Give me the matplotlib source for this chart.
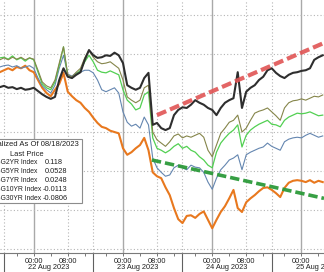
"""Normalized US Treasury yields (2Y/5Y/7Y/10Y/30Y), 22-25 Aug 2023, Bloomberg style."""
import matplotlib
matplotlib.use("Agg")
import matplotlib.pyplot as plt
import matplotlib.transforms as mtransforms
import numpy as np
from matplotlib.patches import Rectangle

W, H = 324, 272
AX_H = 253  # plot area height in pixels (top of picture down to the time axis)

# x = trading hours since the 22 Aug session opened (session = 17:00 -> 14:00)
HOURS = list(range(-1, 76))

G2YR = [0.069, 0.071, 0.068, 0.069, 0.066, 0.068, 0.065, 0.066, 0.068, 0.063,
        0.058, 0.054, 0.051, 0.054, 0.080, 0.098, 0.085, 0.083, 0.088, 0.092,
        0.111, 0.126, 0.118, 0.114, 0.115, 0.118, 0.117, 0.122, 0.118, 0.106,
        0.072, 0.068, 0.065, 0.068, 0.083, 0.091, 0.011, 0.014, 0.006, 0.003,
        0.006, 0.026, 0.034, 0.038, 0.037, 0.042, 0.049, 0.045, 0.042, 0.037,
        0.034, 0.026, 0.037, 0.045, 0.049, 0.052, 0.092, 0.037, 0.062, 0.068,
        0.072, 0.080, 0.085, 0.095, 0.098, 0.091, 0.086, 0.083, 0.088, 0.091,
        0.092, 0.094, 0.095, 0.098, 0.111, 0.115, 0.118]

G5YR = [0.111, 0.114, 0.111, 0.115, 0.112, 0.115, 0.111, 0.114, 0.112, 0.095,
        0.077, 0.071, 0.068, 0.080, 0.106, 0.131, 0.088, 0.085, 0.092, 0.098,
        0.114, 0.126, 0.115, 0.108, 0.105, 0.106, 0.108, 0.103, 0.098, 0.080,
        0.054, 0.049, 0.045, 0.049, 0.068, 0.072, 0.000, -0.012, -0.017, -0.022,
        -0.015, -0.006, -0.003, -0.009, -0.006, -0.008, -0.005, -0.002, -0.008, -0.028,
        -0.038, -0.020, -0.002, 0.006, 0.015, 0.018, 0.026, 0.000, 0.006, 0.018,
        0.029, 0.032, 0.034, 0.037, 0.031, 0.025, 0.018, 0.037, 0.045, 0.048,
        0.049, 0.051, 0.049, 0.052, 0.055, 0.054, 0.057]

G7YR = [0.114, 0.115, 0.112, 0.117, 0.111, 0.114, 0.109, 0.114, 0.111, 0.092,
        0.074, 0.068, 0.065, 0.077, 0.103, 0.131, 0.086, 0.083, 0.089, 0.095,
        0.108, 0.118, 0.108, 0.095, 0.092, 0.091, 0.094, 0.091, 0.088, 0.065,
        0.049, 0.043, 0.034, 0.037, 0.057, 0.062, -0.009, -0.025, -0.028, -0.032,
        -0.028, -0.022, -0.018, -0.025, -0.022, -0.028, -0.031, -0.038, -0.043, -0.051,
        -0.055, -0.031, -0.017, -0.009, -0.002, 0.003, 0.011, -0.023, -0.005, 0.003,
        0.008, 0.012, 0.015, 0.018, 0.012, 0.011, 0.008, 0.018, 0.023, 0.026,
        0.029, 0.028, 0.029, 0.031, 0.028, 0.025, 0.026]

G10YR = [0.100, 0.102, 0.103, 0.100, 0.102, 0.098, 0.100, 0.102, 0.098, 0.083,
         0.071, 0.065, 0.060, 0.072, 0.098, 0.118, 0.089, 0.086, 0.091, 0.092,
         0.095, 0.095, 0.091, 0.080, 0.065, 0.062, 0.065, 0.068, 0.060, 0.031,
         0.015, 0.009, 0.012, 0.006, 0.023, 0.011, -0.040, -0.055, -0.062, -0.068,
         -0.066, -0.055, -0.051, -0.055, -0.058, -0.051, -0.054, -0.055, -0.062, -0.077,
         -0.088, -0.071, -0.058, -0.051, -0.043, -0.040, -0.035, -0.058, -0.035, -0.031,
         -0.028, -0.025, -0.023, -0.017, -0.022, -0.025, -0.028, -0.015, -0.011, -0.009,
         -0.008, -0.009, -0.005, -0.002, -0.005, -0.008, -0.006]

G30YR = [0.092, 0.095, 0.098, 0.095, 0.100, 0.098, 0.102, 0.095, 0.092, 0.080,
         0.068, 0.060, 0.055, 0.065, 0.074, 0.091, 0.062, 0.055, 0.049, 0.045,
         0.037, 0.031, 0.022, 0.014, 0.008, 0.006, 0.002, 0.000, -0.002, -0.025,
         -0.035, -0.031, -0.025, -0.020, -0.009, -0.028, -0.062, -0.068, -0.071, -0.085,
         -0.097, -0.117, -0.134, -0.140, -0.129, -0.128, -0.132, -0.126, -0.122, -0.135,
         -0.148, -0.135, -0.123, -0.114, -0.102, -0.089, -0.117, -0.123, -0.108, -0.102,
         -0.097, -0.091, -0.086, -0.085, -0.089, -0.094, -0.100, -0.086, -0.078, -0.075,
         -0.074, -0.075, -0.077, -0.074, -0.078, -0.075, -0.077]

# hand-drawn trend lines
RED_TREND_X = [36.0, 75.3]
RED_TREND_Y = [0.026, 0.137]
GREEN_TREND_X = [34.8, 75.3]
GREEN_TREND_Y = [-0.043, -0.102]

LEGEND_TITLE = "Normalized As Of 08/18/2023"
LEGEND_NAMES = ["USGG2YR Index", "USGG5YR Index", "USGG7YR Index",
                "USGG10YR Index", "USGG30YR Index"]
LAST_PRICES = ["0.118", "0.0528", "0.0248", "-0.0113", "-0.0806"]

SESSION_STARTS = [0, 21, 42, 63]
SESSION_DATES = ["22 Aug 2023", "23 Aug 2023", "24 Aug 2023", "25 Aug 2023"]
SESSION_LEN = 21
MIDNIGHT = 7    # hours after session open
EIGHT_AM = 15
XMIN, XMAX = -0.94, 75.3

FONT = "Liberation Sans"


def fpos(x, y):
    """pixel position -> figure fraction"""
    return x / W, 1 - y / H


def main():
    fig = plt.figure(figsize=(W / 100, H / 100), dpi=100)
    ax = fig.add_axes([0, (H - AX_H) / H, 1, AX_H / H])

    # grid
    ax.set_yticks(np.round(np.arange(-0.18, 0.19, 0.06), 2))
    ax.yaxis.grid(True, linestyle=(0, (1, 2)), color="#b5b5b5", lw=0.8)
    ax.tick_params(axis="y", left=False, labelleft=False)
    for s in SESSION_STARTS:
        ax.axvline(s + MIDNIGHT, color="#a9a9a9", lw=1.0, zorder=0)
        ax.axvline(s + EIGHT_AM, color="#b5b5b5", lw=0.8, ls=(0, (1, 2)), zorder=0)
        ax.axvline(s, color="#b5b5b5", lw=0.8, ls=(0, (1, 2)), zorder=0)

    for side in ("top", "left", "right"):
        ax.spines[side].set_visible(False)
    ax.spines["bottom"].set_color("#7a7a7a")
    ax.spines["bottom"].set_linewidth(0.8)

    # series
    ax.plot(HOURS, G30YR, color="#e8781e", lw=1.5, zorder=3)
    ax.plot(HOURS, G10YR, color="#6486b0", lw=0.8, zorder=3)
    ax.plot(HOURS, G7YR, color="#52d052", lw=0.9, zorder=3)
    ax.plot(HOURS, G5YR, color="#85854a", lw=0.8, zorder=3)
    ax.plot(HOURS, G2YR, color="#2e2e2e", lw=1.5, zorder=4)

    ax.plot(RED_TREND_X, RED_TREND_Y, color="#e05454", lw=3, alpha=0.9,
            ls=(0, (2.4, 1.0)), solid_capstyle="butt", zorder=5)
    ax.plot(GREEN_TREND_X, GREEN_TREND_Y, color="#2c9a3a", lw=2.6, alpha=0.95,
            ls=(0, (2.6, 1.1)), solid_capstyle="butt", zorder=5)

    # x axis: 00:00 / 08:00 labels, 4h minor ticks, long session dividers
    major, labels = [], []
    for s in SESSION_STARTS:
        for h, lab in ((MIDNIGHT, "00:00"), (EIGHT_AM, "08:00")):
            if s + h <= XMAX:
                major.append(s + h)
                labels.append(lab)
    minor = [s + h for s in SESSION_STARTS for h in (3, 11, 19) if s + h <= XMAX]
    ax.set_xticks(major)
    ax.set_xticklabels(labels, fontsize=5.3, family=FONT, color="#202020")
    ax.set_xticks(minor, minor=True)
    ax.tick_params(axis="x", which="major", length=2.5, width=0.6, color="#606060", pad=1.0)
    ax.tick_params(axis="x", which="minor", length=2, width=0.6, color="#606060")

    ax.set_xlim(XMIN, XMAX)
    ax.set_ylim(-0.186, 0.203)

    trans = mtransforms.blended_transform_factory(ax.transData, ax.transAxes)
    for s, date in zip(SESSION_STARTS, SESSION_DATES):
        ax.plot([s, s], [0, -(H - AX_H) / AX_H], transform=trans, color="#606060",
                lw=0.8, clip_on=False)
        ax.text(s + SESSION_LEN / 2, -14.5 / AX_H, date, transform=trans,
                ha="center", va="center", fontsize=5.3, family=FONT, color="#202020")

    # legend box (cut off at the left edge like the source screenshot)
    x0, y0 = fpos(-10, 203)
    x1, y1 = fpos(82, 139)
    fig.add_artist(Rectangle((x0, y0), x1 - x0, y1 - y0, transform=fig.transFigure,
                             facecolor="white", edgecolor="#8c8c8c", lw=0.8, zorder=10))
    txt = dict(family=FONT, color="#202020", va="center", zorder=11)
    fig.text(*fpos(78.5, 145), LEGEND_TITLE, ha="right", fontsize=5.5, **txt)
    fig.text(*fpos(10, 154), "Last Price", ha="left", fontsize=5.4, **txt)
    for i, (name, val) in enumerate(zip(LEGEND_NAMES, LAST_PRICES)):
        y = 163 + 8.8 * i
        fig.text(*fpos(-14, y), name, ha="left", fontsize=4.9, **txt)
        fig.text(*fpos(43 if val.startswith("-") else 45, y), val, ha="left",
                 fontsize=5.3, **txt)

    fig.savefig("out.png", dpi=100)
    plt.close(fig)


if __name__ == "__main__":
    main()
